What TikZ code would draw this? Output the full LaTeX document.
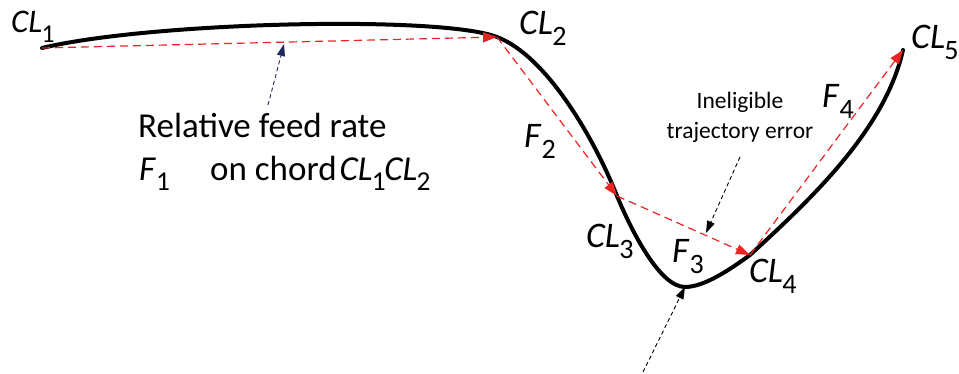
\documentclass[tikz,border=0pt]{standalone}
\usepackage{fontspec}
\setmainfont{Carlito}
\usetikzlibrary{arrows.meta}
\newcommand{\lsub}[1]{\raisebox{-0.28em}{\scalebox{0.78}{#1}}}
\newcommand{\cl}[1]{\textit{CL}\kern-0.02em\lsub{#1}}
\newcommand{\ff}[1]{\textit{F}\lsub{#1}}
\begin{document}
\begin{tikzpicture}[x=1pt,y=-1pt,
  chord/.style={draw={rgb,255:red,235;green,35;blue,35},line width=1.2pt,dash pattern=on 8pt off 5pt,
    -{Triangle[length=14pt,width=10pt,fill={rgb,255:red,235;green,35;blue,35}]}},
  pointer/.style={draw=black,line width=0.9pt,dash pattern=on 4pt off 3pt,-{Triangle[length=12pt,width=8pt]}},
  navypointer/.style={draw={rgb,255:red,30;green,40;blue,90},line width=0.9pt,dash pattern=on 4pt off 3pt,
    -{Triangle[length=12pt,width=8pt,fill={rgb,255:red,30;green,40;blue,90}]}},
  lab/.style={font=\fontsize{36}{40}\selectfont,inner sep=0pt,anchor=base west},
  txt/.style={font=\fontsize{35}{40}\selectfont,inner sep=0pt,anchor=base west},
  small/.style={font=\fontsize{23.5}{30}\selectfont,inner sep=0pt,align=center}]
\useasboundingbox (0,0) rectangle (959,374);
\coordinate (c1) at (42,48);
\coordinate (c2) at (497,37);
\coordinate (c3) at (617,196);
\coordinate (bot) at (685,287);
\coordinate (c4) at (750,255);
\coordinate (c5) at (903,50);
\coordinate (m1) at (284,44);
\coordinate (m3) at (706,233);
% trajectory
\draw[line width=4pt,line cap=round] (c1) .. controls (150,22) and (440,15) .. (c2)
  .. controls (547,56) and (595,140) .. (c3)
  .. controls (632,232) and (660,287) .. (bot)
  .. controls (705,287) and (732,268) .. (c4)
  .. controls (810,200) and (885,130) .. (c5);
% chords
\draw[chord] (c1) -- (c2);
\draw[chord] (c2) -- (c3);
\draw[chord] (c3) -- (c4);
\draw[chord] (c4) -- (c5);
% pointers
\coordinate (p1) at (268,105);
\coordinate (p3) at (740,157);
\coordinate (p4) at (643,372);
\draw[navypointer] (p1) -- (m1);
\draw[pointer] (p3) -- (m3);
\draw[pointer] (p4) -- (bot);
% labels
\node[lab,font=\fontsize{33}{38}\selectfont] (l1) at (11,33) {\cl{1}};
\node[lab] (l2) at (519,35) {\cl{2}};
\node[lab] (l3) at (586,248) {\cl{3}};
\node[lab] (l4) at (749,283) {\cl{4}};
\node[lab] (l5) at (911,49) {\cl{5}};
\node[lab] (f2) at (524,148) {\ff{2}};
\node[lab] (f3) at (672,263) {\ff{3}};
\node[lab] (f4) at (822,108) {\ff{4}};
\node[txt] (t1) at (138,138) {Relative feed rate};
\node[txt] (t2f) at (139,181) {\ff{1}};
\node[txt] (t2) at (210,181) {on chord\kern0.08em\cl{1}\kern-0.04em\cl{2}};
\node[small] (t3) at (740,117) {Ineligible\\trajectory error};
\end{tikzpicture}
\end{document}
